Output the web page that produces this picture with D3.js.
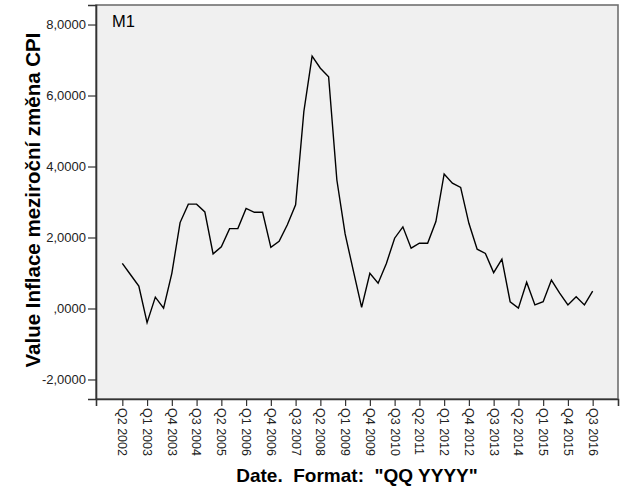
<!DOCTYPE html>
<html>
<head>
<meta charset="utf-8">
<script src="https://cdn.jsdelivr.net/npm/d3@7/dist/d3.min.js"></script>
<style>
  html, body { margin: 0; padding: 0; background: #ffffff; }
  svg { display: block; }
</style>
</head>
<body>
<svg id="chart" width="626" height="501"></svg>
<script>
// ---- data ----
const quarters = [
  "Q2 2002","Q3 2002","Q4 2002",
  "Q1 2003","Q2 2003","Q3 2003","Q4 2003",
  "Q1 2004","Q2 2004","Q3 2004","Q4 2004",
  "Q1 2005","Q2 2005","Q3 2005","Q4 2005",
  "Q1 2006","Q2 2006","Q3 2006","Q4 2006",
  "Q1 2007","Q2 2007","Q3 2007","Q4 2007",
  "Q1 2008","Q2 2008","Q3 2008","Q4 2008",
  "Q1 2009","Q2 2009","Q3 2009","Q4 2009",
  "Q1 2010","Q2 2010","Q3 2010","Q4 2010",
  "Q1 2011","Q2 2011","Q3 2011","Q4 2011",
  "Q1 2012","Q2 2012","Q3 2012","Q4 2012",
  "Q1 2013","Q2 2013","Q3 2013","Q4 2013",
  "Q1 2014","Q2 2014","Q3 2014","Q4 2014",
  "Q1 2015","Q2 2015","Q3 2015","Q4 2015",
  "Q1 2016","Q2 2016","Q3 2016"
];
const inflation = [
  1.27, 0.95, 0.63,
  -0.40, 0.32, 0.01, 0.99,
  2.42, 2.94, 2.94, 2.72,
  1.54, 1.74, 2.25, 2.25,
  2.82, 2.71, 2.71, 1.72,
  1.89, 2.36, 2.92, 5.55,
  7.11, 6.77, 6.53, 3.62,
  2.10, 1.06, 0.03, 0.99,
  0.71, 1.27, 1.98, 2.30,
  1.70, 1.84, 1.84, 2.45,
  3.79, 3.53, 3.41, 2.40,
  1.67, 1.55, 1.01, 1.39,
  0.19, 0.01, 0.74, 0.10,
  0.19, 0.80, 0.43, 0.10,
  0.33, 0.10, 0.49
];
const xTickLabels = [
  "Q2 2002","Q1 2003","Q4 2003","Q3 2004","Q2 2005","Q1 2006","Q4 2006",
  "Q3 2007","Q2 2008","Q1 2009","Q4 2009","Q3 2010","Q2 2011","Q1 2012",
  "Q4 2012","Q3 2013","Q2 2014","Q1 2015","Q4 2015","Q3 2016"
];
const yTickValues = [-2, 0, 2, 4, 6, 8];
const panelLabel = "M1";
const xTitle = 'Date.  Format:  "QQ YYYY"';
const yTitle = "Value Inflace meziroční změna CPI";

// ---- layout ----
const plot = { left: 96, right: 618, top: 5, bottom: 399 };
const svg = d3.select("#chart");
const font = "Arial, 'Liberation Sans', sans-serif";

const x = d3.scaleLinear().domain([-3.19, 60.07]).range([plot.left, plot.right]);
const y = d3.scaleLinear().domain([-2.55, 8.55]).range([plot.bottom, plot.top]);

// background
svg.append("rect")
  .attr("x", plot.left).attr("y", plot.top)
  .attr("width", plot.right - plot.left).attr("height", plot.bottom - plot.top)
  .attr("fill", "#f0f0f0")
  .attr("stroke", "#707070").attr("stroke-width", 1.6);

// line
const line = d3.line()
  .x((d, i) => x(i))
  .y(d => y(d));
svg.append("path")
  .datum(inflation)
  .attr("d", line)
  .attr("fill", "none")
  .attr("stroke", "#000")
  .attr("stroke-width", 1.4)
  .attr("stroke-linejoin", "miter");

// y axis
const fmt = v => {
  let s = d3.format(".4f")(v).replace(".", ",").replace("\u2212", "-");
  if (s.startsWith("0,")) s = s.slice(1);
  return s;
};
const yAxis = d3.axisLeft(y).tickValues(yTickValues).tickFormat(fmt).tickSize(8).tickPadding(2);
const gy = svg.append("g").attr("transform", `translate(${plot.left},0)`).call(yAxis);
gy.select(".domain").attr("stroke", "#333").attr("stroke-width", 1.6);
gy.selectAll(".tick line").attr("stroke", "#333").attr("stroke-width", 1.2);
gy.selectAll(".tick text").attr("font-family", font).attr("font-size", 13).attr("fill", "#222");

// x axis
const tickIdx = xTickLabels.map(l => quarters.indexOf(l));
const xAxis = d3.axisBottom(x).tickValues(tickIdx).tickFormat(i => quarters[i]).tickSize(7).tickPadding(2);
const gx = svg.append("g").attr("transform", `translate(0,${plot.bottom})`).call(xAxis);
gx.select(".domain").attr("stroke", "#333").attr("stroke-width", 1.6);
gx.selectAll(".tick line").attr("stroke", "#333").attr("stroke-width", 1.2);
gx.selectAll(".tick text")
  .attr("font-family", font).attr("font-size", 12.5).attr("fill", "#222")
  .attr("text-anchor", "start")
  .attr("dy", null)
  .attr("transform", "translate(-4.6,9) rotate(90)")
  .attr("x", 0).attr("y", 0)
  .attr("dominant-baseline", "auto");

// panel label
svg.append("text")
  .attr("x", 112).attr("y", 27)
  .attr("font-family", font).attr("font-size", 16.5)
  .attr("fill", "#000")
  .text(panelLabel);

// axis titles
svg.append("text")
  .attr("x", (plot.left + plot.right) / 2).attr("y", 482)
  .attr("text-anchor", "middle")
  .style("white-space", "pre")
  .attr("font-family", font).attr("font-size", 19).attr("font-weight", "bold")
  .attr("fill", "#000")
  .text(xTitle);

svg.append("text")
  .attr("transform", `translate(40,200) rotate(-90)`)
  .attr("text-anchor", "middle")
  .attr("font-family", font).attr("font-size", 20.5).attr("font-weight", "bold")
  .attr("fill", "#000")
  .text(yTitle);
</script>
</body>
</html>
